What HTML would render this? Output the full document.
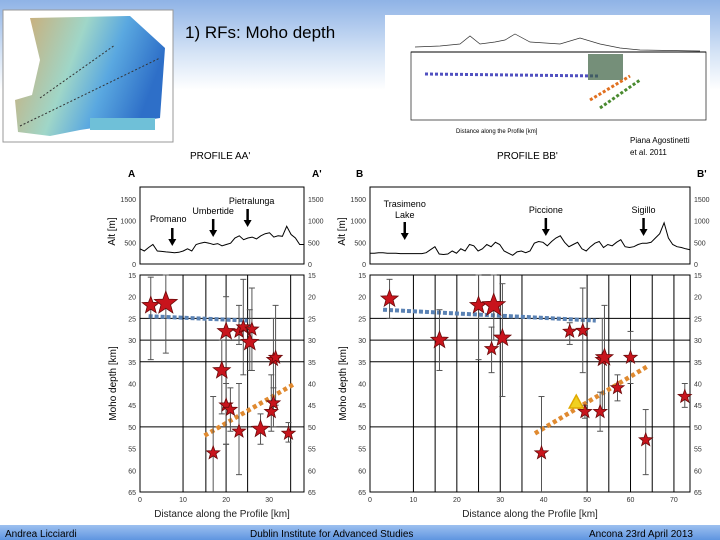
<!DOCTYPE html>
<html><head><meta charset="utf-8"><style>
html,body{margin:0;padding:0;width:720px;height:540px;overflow:hidden;background:#fff;font-family:"Liberation Sans",sans-serif}
svg{position:absolute;left:0;top:0}
</style></head><body>
<svg id="s" width="720" height="540" xmlns="http://www.w3.org/2000/svg">
<defs>
<linearGradient id="hdr" x1="0" y1="0" x2="0" y2="1"><stop offset="0" stop-color="#8fb3e6"/><stop offset="0.6" stop-color="#d6e4f6"/><stop offset="1" stop-color="#ffffff"/></linearGradient>
<linearGradient id="ftr" x1="0" y1="0" x2="0" y2="1"><stop offset="0" stop-color="#9dc0f0"/><stop offset="1" stop-color="#5f95e0"/></linearGradient>
<linearGradient id="map" x1="0" y1="0" x2="1" y2="0.3"><stop offset="0" stop-color="#d4a66a"/><stop offset="0.45" stop-color="#9fd6c8"/><stop offset="0.7" stop-color="#5aa8e0"/><stop offset="1" stop-color="#2e6fc8"/></linearGradient>
</defs>
<rect x="0" y="0" width="720" height="90" fill="url(#hdr)"/>
<rect x="3" y="10" width="170" height="132" fill="#fff" stroke="#999"/>
<path d="M30 18 L130 16 L165 48 L160 118 L80 130 L50 136 L18 132 L15 100 L32 95 L40 60 Z" fill="url(#map)"/>
<rect x="90" y="118" width="65" height="12" fill="#6fc0d8"/>
<line x1="20" y1="126" x2="160" y2="58" stroke="#333" stroke-dasharray="2,2"/>
<line x1="40" y1="98" x2="115" y2="45" stroke="#333" stroke-dasharray="2,2"/>
<text x="185" y="38" font-size="17" font-family="Liberation Sans, sans-serif">1) RFs: Moho depth</text>
<rect x="385" y="15" width="325" height="125" fill="#fff"/>
<rect x="411" y="52" width="295" height="68" fill="none" stroke="#333" stroke-width="0.8"/>
<line x1="411" y1="52" x2="706" y2="52" stroke="#000"/>
<path d="M415 47 L440 46 L460 44 L470 36 L480 44 L495 42 L505 40 L515 34 L530 42 L560 44 L580 38 L600 44 L620 48 L640 50 L700 51" fill="none" stroke="#333" stroke-width="0.7"/>
<line x1="425" y1="74" x2="600" y2="76" stroke="#5050c0" stroke-width="3" stroke-dasharray="3,2"/>
<rect x="588" y="54" width="35" height="26" fill="#3a6040" opacity="0.7"/>
<line x1="590" y1="100" x2="630" y2="76" stroke="#e07020" stroke-width="3" stroke-dasharray="3,2"/>
<line x1="600" y1="108" x2="640" y2="80" stroke="#4a8a30" stroke-width="3" stroke-dasharray="3,2"/>
<text x="456" y="133" font-size="6">Distance along the Profile [km]</text>
<text x="630" y="143" font-size="8">Piana Agostinetti</text>
<text x="630" y="155" font-size="8">et al. 2011</text>
<text x="190" y="159" font-size="10">PROFILE AA'</text>
<text x="497" y="159" font-size="10">PROFILE BB'</text>
<rect x="0" y="525" width="720" height="15" fill="url(#ftr)"/>
<text x="5" y="537" font-size="10">Andrea Licciardi</text>
<text x="250" y="537" font-size="10">Dublin Institute for Advanced Studies</text>
<text x="589" y="537" font-size="10">Ancona 23rd April 2013</text>
<g id="pa"></g><g id="pb"></g>
</svg>
<script>
// Profile A data
const altA = [350,300,380,450,300,290,280,270,260,270,300,350,300,450,480,500,480,450,470,420,450,480,600,650,560,600,620,580,650,700,720,620,650,640,870,680,600,450,450];
const starsA_x = [2.5,6,20,23,24,26,25.5,19,20,21,23,17,28,30.5,31,31,31.5,34.5];
const starsA_y = [22,21.5,28,28,27,27.5,30.5,37,45,46,51,56,50.5,46.5,44.5,34.5,34,51.5];
const starsA_lo = [15.5,15,20,22,16,18,23,30,40,41,40,43,47,38,41,25,22,49];
const starsA_hi = [34.5,33,54,31,38,37,37,47,54,51,61,65,54,51,50,45,45,53.5];
const starsA_big = [1,2,1,0,0,0,1,1,0,0,0,0,1,0,0,0,0,0];
const blueA_x=[2,25], blueA_y=[24.5,25.5];
const orangeA_x=[15,36], orangeA_y=[52,40];
// Profile B data
const altB = [250,250,260,260,250,250,250,240,240,240,240,240,240,260,330,400,230,220,230,300,250,350,300,450,420,300,350,450,400,500,450,300,250,200,280,300,260,300,480,520,500,420,520,600,650,500,400,450,500,350,300,400,480,520,380,450,420,500,560,400,380,400,450,480,480,500,600,700,950,600,450,400,380,350,330];
const starsB_x = [4.5,16,25,28.5,28,30.5,46,49,39.5,49.5,53,53.5,54,57,60,63.5,72.5];
const starsB_y = [20.5,30,22,22,32,29.5,28,27.8,56,46.5,46.5,34.5,34,41,34,53,43];
const starsB_lo = [16,23,15,15,27,17,26,18,43,45,42,25,22,38,28,46,40];
const starsB_hi = [25,37,34.5,30,37.5,43,31,37.5,65,48,51,46,46,44,40,61,45.5];
const starsB_big = [1,1,1,2,0,1,0,0,0,0,0,0,1,0,0,0,0];
const blueB_x=[3,52], blueB_y=[23,25.5];
const orangeB_x=[38,64], orangeB_y=[51.5,36];
const triB_x=[47.5], triB_y=[44.5];

const NS="http://www.w3.org/2000/svg";
function mk(p,tag,attrs){const e=document.createElementNS(NS,tag);for(const k in attrs)e.setAttribute(k,attrs[k]);p.appendChild(e);return e;}
function star(cx,cy,r){let s="";for(let i=0;i<10;i++){const a=-Math.PI/2+i*Math.PI/5;const rr=i%2?r*0.42:r;s+=(i?"L":"M")+(cx+rr*Math.cos(a)).toFixed(1)+" "+(cy+rr*Math.sin(a)).toFixed(1);}return s+"Z";}

function panel(g,o){
  const x0=o.x0,x1=o.x1,kmMax=o.kmMax;
  const X=k=>x0+(x1-x0)*k/kmMax;
  const AY=a=>264-a*(65/1500);
  const DY=d=>275+(d-15)*(217/50);
  // altitude box
  mk(g,'rect',{x:x0,y:187,width:x1-x0,height:77,fill:'#fff',stroke:'#000','stroke-width':1});
  let d="";o.alt.forEach((a,i)=>{d+=(i?"L":"M")+X(i*kmMax/(o.alt.length-1)).toFixed(1)+" "+AY(a).toFixed(1);});
  const ap=mk(g,'path',{d:d,fill:'none',stroke:'#000','stroke-width':1});
  
  
  [0,500,1000,1500].forEach(v=>{
    mk(g,'text',{x:x0-4,y:AY(v)+3,'font-size':7,'text-anchor':'end',fill:'#333'}).textContent=v;
    mk(g,'text',{x:x1+4,y:AY(v)+3,'font-size':7,fill:'#333'}).textContent=v;
  });
  const at=mk(g,'text',{x:0,y:0,'font-size':10,transform:`translate(${x0-25},${AY(750)}) rotate(-90)`,'text-anchor':'middle'});at.textContent='Alt [m]';
  // labels & arrows
  o.towns.forEach(t=>{
    const tx=X(t.k);
    t.lines.forEach((l,i)=>{const e=mk(g,'text',{x:tx+(t.dx||0),y:t.y+i*11,'font-size':9,'text-anchor':'middle'});e.textContent=l;});
    mk(g,'line',{x1:tx,y1:t.ay,x2:tx,y2:t.ay+13,stroke:'#000','stroke-width':2.5});
    mk(g,'path',{d:`M${tx-4} ${t.ay+11} L${tx+4} ${t.ay+11} L${tx} ${t.ay+18}Z`,fill:'#000'});
  });
  // depth box
  const box=mk(g,'rect',{x:x0,y:275,width:x1-x0,height:217,fill:'#fff',stroke:'#000','stroke-width':1});
  
  
  o.vlines.forEach(k=>mk(g,'line',{x1:X(k),y1:275,x2:X(k),y2:492,stroke:'#000','stroke-width':1}));
  [25,30,35,50].forEach(v=>mk(g,'line',{x1:x0,y1:DY(v),x2:x1,y2:DY(v),stroke:'#000','stroke-width':1}));
  for(let v=15;v<=65;v+=5){
    mk(g,'text',{x:x0-4,y:DY(v)+3,'font-size':7,'text-anchor':'end',fill:'#333'}).textContent=v;
    mk(g,'text',{x:x1+4,y:DY(v)+3,'font-size':7,fill:'#333'}).textContent=v;
  }
  for(let k=0;k<=kmMax;k+=10){mk(g,'text',{x:X(k),y:502,'font-size':7,'text-anchor':'middle',fill:'#333'}).textContent=k;}
  const xl=mk(g,'text',{x:(x0+x1)/2,y:517,'font-size':10,'text-anchor':'middle',fill:'#222'});xl.textContent='Distance along the Profile [km]';
  
  
  const yl=mk(g,'text',{x:0,y:0,'font-size':10,transform:`translate(${x0-24},${DY(40)}) rotate(-90)`,'text-anchor':'middle'});yl.textContent='Moho depth [km]';
  
  
  // trend lines
  const bl=mk(g,'line',{x1:X(o.bx[0]),y1:DY(o.by[0]),x2:X(o.bx[1]),y2:DY(o.by[1]),stroke:'#5a82b4','stroke-width':4,'stroke-dasharray':'4,2'});
  
  
  const ol=mk(g,'line',{x1:X(o.ox[0]),y1:DY(o.oy[0]),x2:X(o.ox[1]),y2:DY(o.oy[1]),stroke:'#e08a30','stroke-width':4.5,'stroke-dasharray':'4,3'});
  
  
  // error bars and stars
  o.sx.forEach((k,i)=>{
    const cx=X(k);
    mk(g,'line',{x1:cx,y1:DY(o.lo[i]),x2:cx,y2:DY(Math.min(o.hi[i],65)),stroke:'#555','stroke-width':1});
    mk(g,'line',{x1:cx-3,y1:DY(o.lo[i]),x2:cx+3,y2:DY(o.lo[i]),stroke:'#555'});
    if(o.hi[i]<65)mk(g,'line',{x1:cx-3,y1:DY(o.hi[i]),x2:cx+3,y2:DY(o.hi[i]),stroke:'#555'});
  });
  o.sx.forEach((k,i)=>{
    const r=[7,9,12][o.big[i]];
    const s=mk(g,'path',{d:star(X(k),DY(o.sy[i]),r),fill:'#c8141c',stroke:'#6a0a0a','stroke-width':0.8});
    
    
  });
  return {X,DY};
}
const A=panel(document.getElementById('pa'),{id:'profile-a',x0:140,x1:304,kmMax:38.1,alt:altA,vlines:[10,15.3,20,25,35],
  sx:starsA_x,sy:starsA_y,lo:starsA_lo,hi:starsA_hi,big:starsA_big,bx:blueA_x,by:blueA_y,ox:orangeA_x,oy:orangeA_y,
  towns:[{k:7.5,lines:['Promano'],y:222,ay:228,dx:-4},{k:17,lines:['Umbertide'],y:214,ay:219,dx:0},{k:25,lines:['Pietralunga'],y:204,ay:209,dx:4}]});
const B=panel(document.getElementById('pb'),{id:'profile-b',x0:370,x1:690,kmMax:73.7,alt:altB,vlines:[10,15,20,25,30,35,50,55,60,65,70],
  sx:starsB_x,sy:starsB_y,lo:starsB_lo,hi:starsB_hi,big:starsB_big,bx:blueB_x,by:blueB_y,ox:orangeB_x,oy:orangeB_y,
  towns:[{k:8,lines:['Trasimeno','Lake'],y:207,ay:222,dx:0},{k:40.5,lines:['Piccione'],y:213,ay:218,dx:0},{k:63,lines:['Sigillo'],y:213,ay:218,dx:0}]});
triB_x.forEach((k,i)=>{
  const cx=B.X(k),cy=B.DY(triB_y[i]);
  const t=mk(document.getElementById('pb'),'path',{d:`M${cx} ${cy-8} L${cx+7} ${cy+5} L${cx-7} ${cy+5}Z`,fill:'#f0d020',stroke:'#e0a800','stroke-width':1.5});
  
  
});
const s=document.getElementById('s');
[[128,177,'A'],[312,177,"A'"],[356,177,'B'],[697,177,"B'"]].forEach(a=>{const e=mk(s,'text',{x:a[0],y:a[1],'font-size':10,'font-weight':'bold'});e.textContent=a[2];});
</script>
</body></html>
